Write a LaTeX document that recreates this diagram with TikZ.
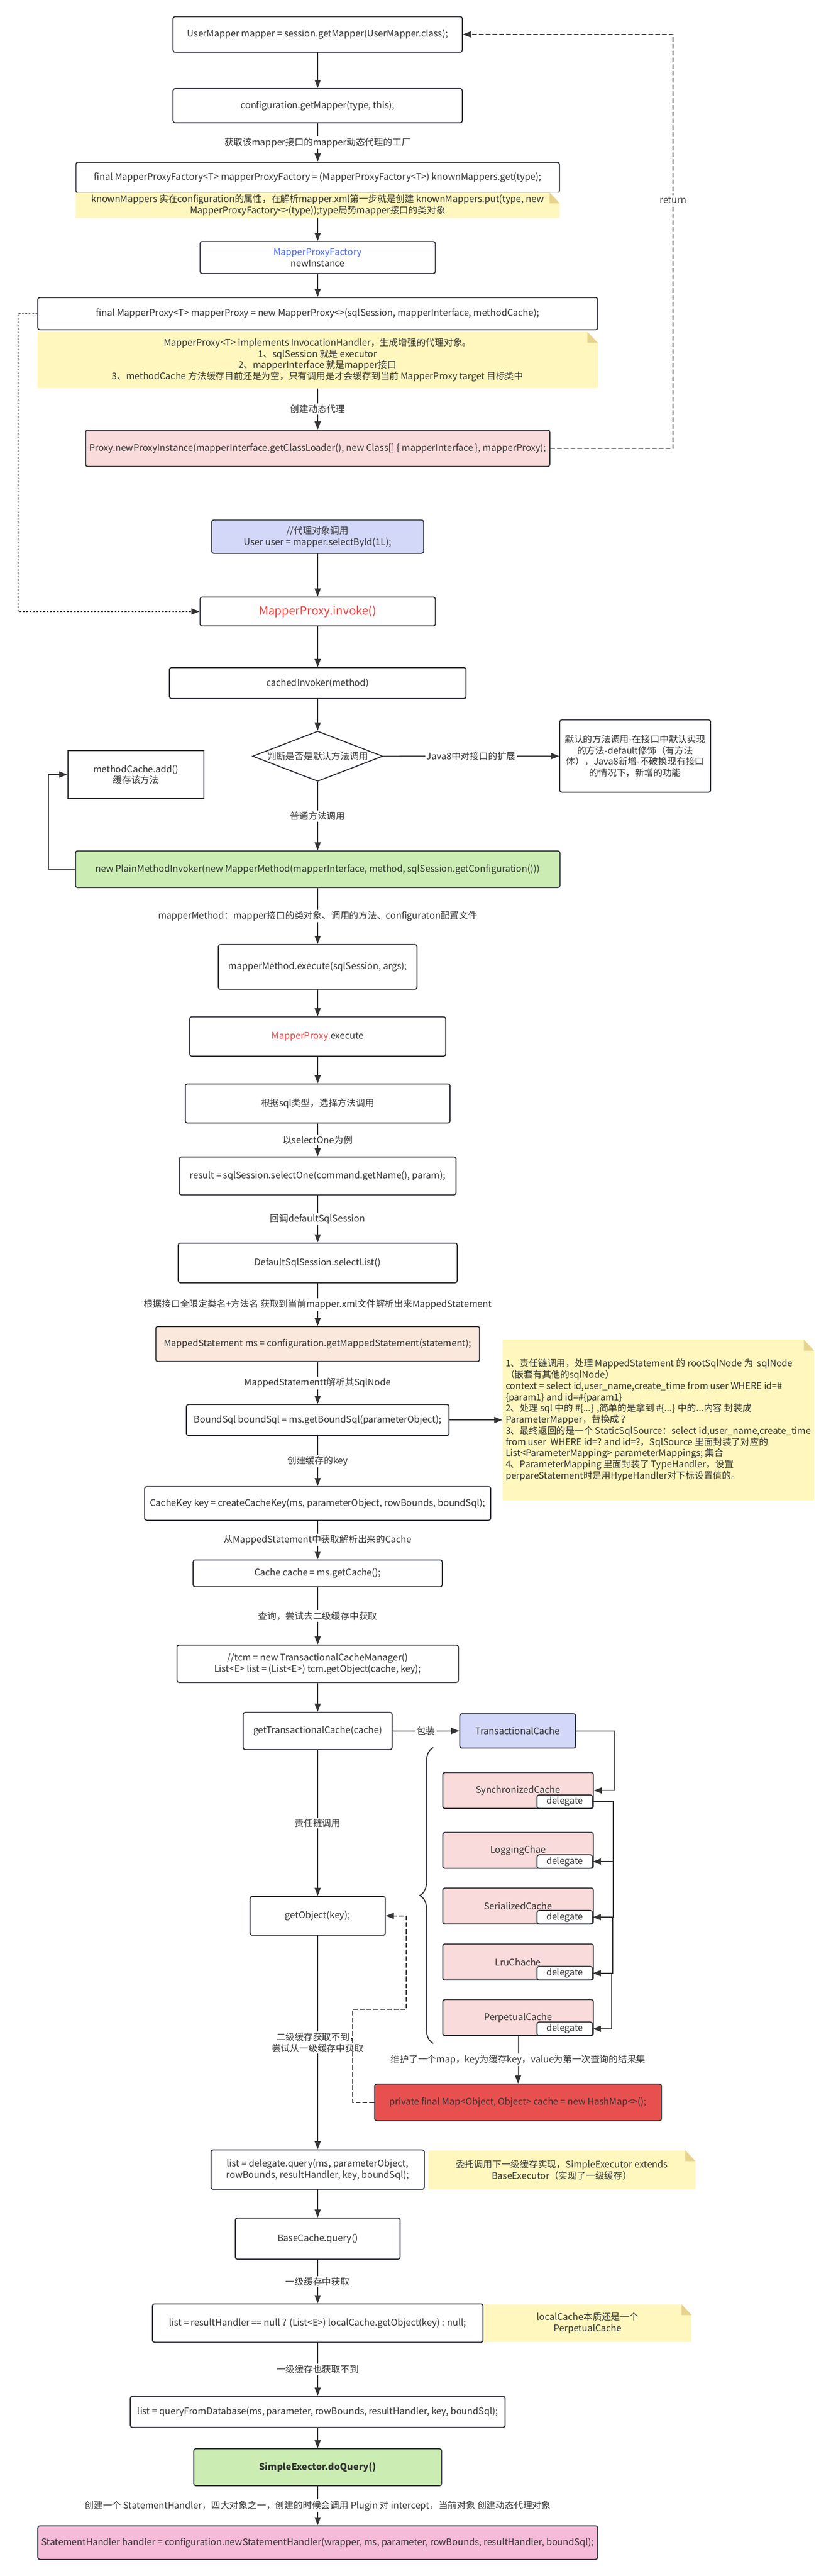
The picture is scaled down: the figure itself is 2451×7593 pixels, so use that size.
\documentclass[tikz,border=0pt]{standalone}
\usepackage{fontspec}
\setmainfont{Noto Sans CJK SC}
\usetikzlibrary{arrows.meta,shapes.geometric,decorations.pathreplacing}
\definecolor{edgec}{HTML}{2B2F36}
\definecolor{linec}{HTML}{333333}
\definecolor{textc}{HTML}{333333}
\definecolor{bluefill}{HTML}{D3D7F8}
\definecolor{pinkfill}{HTML}{FADBDB}
\definecolor{greenfill}{HTML}{CBEDB4}
\definecolor{peachfill}{HTML}{FBE8DD}
\definecolor{noteyellow}{HTML}{FFF7BD}
\definecolor{notefold}{HTML}{E6D38C}
\definecolor{redfill}{HTML}{E85050}
\definecolor{rosefill}{HTML}{F5BBD9}
\definecolor{bluetext}{HTML}{4B6BE8}
\definecolor{redtext}{HTML}{E84545}
\tikzset{
	sz/.style 2 args={minimum width=#1*0.5pt,minimum height=#2*0.5pt},
	box/.style={draw=edgec,line width=1.5pt,rounded corners=3pt,fill=white,text=textc,align=center,inner sep=3pt},
	notebox/.style={fill=noteyellow,text=textc,align=center,inner sep=3pt,path picture={
		\fill[white] ([xshift=-15pt]path picture bounding box.north east) -- (path picture bounding box.north east) -- ([yshift=-16pt]path picture bounding box.north east) -- cycle;
		\fill[notefold] ([xshift=-15pt]path picture bounding box.north east) -- ([xshift=-15pt,yshift=-16pt]path picture bounding box.north east) -- ([yshift=-16pt]path picture bounding box.north east) -- cycle;}},
	flow/.style={->,draw=linec,line width=1pt},
	boldflow/.style={->,draw=linec,line width=1.5pt},
	dotline/.style={->,draw=linec,line width=1pt,dash pattern=on 2.5pt off 2.5pt},
	retline/.style={->,draw=linec,line width=1.4pt,dash pattern=on 7pt off 3pt},
	lbl/.style={fill=white,text=textc,align=center,inner sep=2pt},
	cachebox/.style={box,fill=pinkfill,sz={444}{106}},
	delegbox/.style={box,sz={163}{40},inner sep=0pt}
}
\begin{document}
\begin{tikzpicture}[x=0.5pt,y=-0.5pt,>={Triangle[length=12pt,width=9pt]},font=\fontsize{13.5}{16.5}\selectfont]
	\useasboundingbox (0,0) rectangle (2451,7593);
	\node[box,sz={853}{105}] (mapper) at (937,101.5) {UserMapper mapper = session.getMapper(UserMapper.class);};
	\node[box,sz={853}{101}] (getmapper) at (937,311.5) {configuration.getMapper(type, this);};
	\node[box,sz={1426}{91}] (factory) at (937,523.5) {final MapperProxyFactory<T> mapperProxyFactory = (MapperProxyFactory<T>) knownMappers.get(type);};
	\node[notebox,sz={1428}{69}] (note1) at (937,604.5) {knownMappers 实在configuration的属性，在解析mapper.xml第一步就是创建 knownMappers.put(type, new\\MapperProxyFactory<>(type));type局势mapper接口的类对象};
	\node[box,sz={694}{94}] (newinst) at (937,759) {\textcolor{bluetext}{MapperProxyFactory}\\newInstance};
	\node[box,sz={1651}{95}] (mproxy) at (937,924.5) {final MapperProxy<T> mapperProxy = new MapperProxy<>(sqlSession, mapperInterface, methodCache);};
	\node[notebox,sz={1651}{166}] (note2) at (937,1061) {MapperProxy<T> implements InvocationHandler，生成增强的代理对象。\\1、sqlSession 就是 executor\\2、mapperInterface 就是mapper接口\\3、methodCache 方法缓存目前还是为空，只有调用是才会缓存到当前 MapperProxy target 目标类中};
	\node[box,fill=pinkfill,sz={1369}{107}] (newproxy) at (937,1321.5) {Proxy.newProxyInstance(mapperInterface.getClassLoader(), new Class[] \{ mapperInterface \}, mapperProxy);};
	\coordinate (rtn) at (1985,102);
	\node[box,fill=bluefill,sz={625}{98}] (select) at (937,1582) {//代理对象调用\\User user = mapper.selectById(1L);};
	\node[box,sz={694}{85},text=redtext,font=\fontsize{17}{20}\selectfont] (invoke) at (937,1802.5) {MapperProxy.invoke()};
	\node[box,sz={875}{91}] (cached) at (937,2013.5) {cachedInvoker(method)};
	\node[draw=edgec,line width=1.5pt,diamond,aspect=2.6,inner sep=0pt,text=textc,sz={384}{148}] (dia) at (937,2229) {判断是否是默认方法调用};
	\node[box,sz={445}{213}] (deflt) at (1873.5,2228.5) {默认的方法调用-在接口中默认实现\\的方法-default修饰（有方法\\体），Java8新增-不破换现有接口\\的情况下，新增的功能};
	\node[box,sharp corners,sz={402}{142}] (mcache) at (401,2283) {methodCache.add()\\缓存该方法};
	\node[box,fill=greenfill,sz={1429}{108}] (plain) at (937,2562) {new PlainMethodInvoker(new MapperMethod(mapperInterface, method, sqlSession.getConfiguration()))};
	\node[box,sz={586}{132}] (execute) at (937,2850) {mapperMethod.execute(sqlSession, args);};
	\node[box,sz={755}{116}] (mpexec) at (937,3055) {\textcolor{redtext}{MapperProxy}.execute};
	\node[box,sz={781}{115}] (sqltype) at (937,3252.5) {根据sql类型，选择方法调用};
	\node[box,sz={816}{112}] (selone) at (937,3466) {result = sqlSession.selectOne(command.getName(), param);};
	\node[box,sz={823}{117}] (sellist) at (937,3722.5) {DefaultSqlSession.selectList()};
	\node[box,fill=peachfill,sz={955}{103}] (mstmt) at (937,3961.5) {MappedStatement ms = configuration.getMappedStatement(statement);};
	\node[box,sz={775}{91}] (boundsql) at (937,4185.5) {BoundSql boundSql = ms.getBoundSql(parameterObject);};
	\node[notebox,align=left,sz={919}{473}] (note3) at (1941.5,4185.5) {1、责任链调用，处理 MappedStatement 的 rootSqlNode 为\ \ sqlNode\\（嵌套有其他的sqlNode）\\context = select id,user\_name,create\_time from user WHERE id=\#\\\{param1\} and id=\#\{param1\}\\2、处理 sql 中的 \#\{...\} ,简单的是拿到 \#\{...\} 中的...内容 封装成\\ParameterMapper，替换成 ?\\3、最终返回的是一个 StaticSqlSource：select id,user\_name,create\_time\\from user\ \ WHERE id=? and id=?，SqlSource 里面封装了对应的\\List<ParameterMapping> parameterMappings; 集合\\4、ParameterMapping 里面封装了 TypeHandler，设置\\perpareStatement时是用HypeHandler对下标设置值的。};
	\node[box,sz={1021}{99}] (cachekey) at (937,4431.5) {CacheKey key = createCacheKey(ms, parameterObject, rowBounds, boundSql);};
	\node[box,sz={735}{79}] (getcache) at (937,4637.5) {Cache cache = ms.getCache();};
	\node[box,sz={830}{110}] (tcm) at (937,4904) {//tcm = new TransactionalCacheManager()\\List<E> list = (List<E>) tcm.getObject(cache, key);};
	\node[box,sz={439}{110}] (gettc) at (937,5102) {getTransactionalCache(cache)};
	\node[box,fill=bluefill,sz={342}{101}] (tcache) at (1527,5102) {TransactionalCache};
	\node[cachebox] (sync) at (1528,5277.5) {SynchronizedCache};
	\node[delegbox,anchor=south east,xshift=-1.5pt] (syncd) at (sync.south east) {delegate};
	\node[cachebox] (logging) at (1528,5454) {LoggingChae};
	\node[delegbox,anchor=south east,xshift=-1.5pt] (loggingd) at (logging.south east) {delegate};
	\node[cachebox] (serial) at (1528,5618) {SerializedCache};
	\node[delegbox,anchor=south east,xshift=-1.5pt] (seriald) at (serial.south east) {delegate};
	\node[cachebox] (lru) at (1528,5783) {LruChache};
	\node[delegbox,anchor=south east,xshift=-1.5pt] (lrud) at (lru.south east) {delegate};
	\node[cachebox] (perp) at (1528,5947) {PerpetualCache};
	\node[delegbox,anchor=south east,xshift=-1.5pt] (perpd) at (perp.south east) {delegate};
	\node[box,sz={399}{114}] (getobj) at (937,5647) {getObject(key);};
	\node[box,fill=redfill,sz={846}{108}] (hashmap) at (1528,6197) {private final Map<Object, Object> cache = new HashMap<>();};
	\node[box,sz={629}{116}] (listdel) at (937,6395) {list = delegate.query(ms, parameterObject,\\rowBounds, resultHandler, key, boundSql);};
	\node[notebox,sz={788}{115}] (note4) at (1657,6395.5) {委托调用下一级缓存实现，SimpleExecutor extends\\BaseExecutor（实现了一级缓存）};
	\node[box,sz={486}{121}] (basecache) at (937,6598.5) {BaseCache.query()};
	\node[box,sz={975}{113}] (listres) at (937,6847.5) {list = resultHandler == null ? (List<E>) localCache.getObject(key) : null;};
	\node[notebox,sz={613}{111}] (note5) at (1733.5,6847.5) {localCache本质还是一个\\PerpetualCache};
	\node[box,sz={1105}{92}] (querydb) at (937,7109) {list = queryFromDatabase(ms, parameter, rowBounds, resultHandler, key, boundSql);};
	\node[box,fill=greenfill,sz={731}{109}] (doquery) at (937,7272.5) {\textbf{SimpleExector.doQuery()}};
	\node[box,fill=rosefill,sz={1651}{99}] (sthandler) at (937,7494.5) {StatementHandler handler = configuration.newStatementHandler(wrapper, ms, parameter, rowBounds, resultHandler, boundSql);};
	\draw[flow] (mapper) -- (getmapper);
	\draw[flow] (getmapper) -- node[lbl] {获取该mapper接口的mapper动态代理的工厂} (factory);
	\draw[flow] (note1) -- (newinst);
	\draw[flow] (newinst) -- (mproxy);
	\draw[flow] (note2) -- node[lbl] {创建动态代理} (newproxy);
	\draw[retline] (newproxy.east) -| node[lbl,pos=0.8] {return} (rtn) -- (mapper.east);
	\draw[dotline] (mproxy.west) -- ++(-57,0) |- (invoke.west);
	\draw[flow] (select) -- (invoke);
	\draw[flow] (invoke) -- (cached);
	\draw[flow] (cached) -- (dia);
	\draw[boldflow] (dia) -- node[lbl] {Java8中对接口的扩展} (deflt);
	\draw[flow] (dia) -- node[lbl] {普通方法调用} (plain);
	\draw[boldflow] (plain.west) -- ++(-78,0) |- (mcache.west);
	\draw[flow] (plain) -- node[lbl] {mapperMethod：mapper接口的类对象、调用的方法、configuraton配置文件} (execute);
	\draw[flow] (execute) -- (mpexec);
	\draw[flow] (mpexec) -- (sqltype);
	\draw[flow] (sqltype) -- node[lbl] {以selectOne为例} (selone);
	\draw[flow] (selone) -- node[lbl] {回调defaultSqlSession} (sellist);
	\draw[flow] (sellist) -- node[lbl] {根据接口全限定类名+方法名 获取到当前mapper.xml文件解析出来MappedStatement} (mstmt);
	\draw[flow] (mstmt) -- node[lbl] {MappedStatementt解析其SqlNode} (boundsql);
	\draw[boldflow] (boundsql) -- (note3);
	\draw[flow] (boundsql) -- node[lbl] {创建缓存的key} (cachekey);
	\draw[flow] (cachekey) -- node[lbl] {从MappedStatement中获取解析出来的Cache} (getcache);
	\draw[flow] (getcache) -- node[lbl] {查询，尝试去二级缓存中获取} (tcm);
	\draw[flow] (tcm) -- (gettc);
	\draw[boldflow] (gettc) -- node[lbl] {包装} (tcache);
	\draw[boldflow] (tcache.east) -- ++(114,0) |- (sync.east);
	\draw[boldflow] (syncd.east) -- ++(60,0) |- (loggingd.east);
	\draw[boldflow] (loggingd.east) -- ++(60,0) |- (seriald.east);
	\draw[boldflow] (seriald.east) -- ++(58,0) |- (lrud.east);
	\draw[boldflow] (lrud.east) -- ++(56,0) |- (perpd.east);
	\draw[draw=edgec,line width=1.5pt,decorate,decoration={brace,amplitude=20pt}] (1278,6023) -- (1278,5151);
	\draw[flow] (gettc) -- node[lbl] {责任链调用} (getobj);
	\draw[flow] (getobj) -- node[lbl] {二级缓存获取不到，\\尝试从一级缓存中获取} (listdel);
	\draw[flow] (perp) -- node[lbl] {维护了一个map，key为缓存key，value为第一次查询的结果集} (hashmap);
	\draw[retline] (hashmap.west) -- ++(-64,0) -- ++(0,-274) -- ++(159,0) |- (getobj.east);
	\draw[flow] (listdel) -- (basecache);
	\draw[flow] (basecache) -- node[lbl] {一级缓存中获取} (listres);
	\draw[flow] (listres) -- node[lbl] {一级缓存也获取不到} (querydb);
	\draw[flow] (querydb) -- (doquery);
	\draw[flow] (doquery) -- node[lbl] {创建一个 StatementHandler，四大对象之一，创建的时候会调用 Plugin 对 intercept，当前对象 创建动态代理对象} (sthandler);
\end{tikzpicture}
\end{document}
